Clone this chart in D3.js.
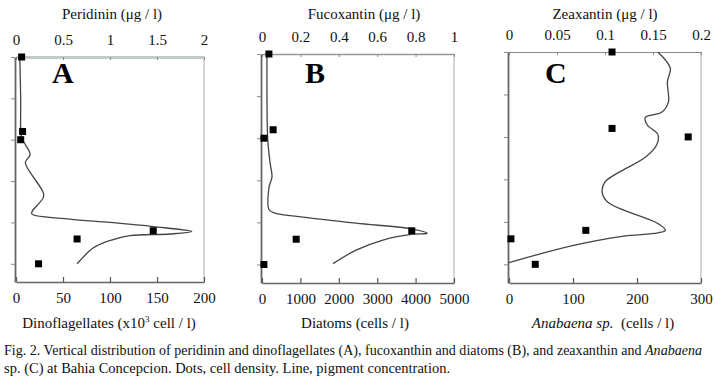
<!DOCTYPE html>
<html>
<head>
<meta charset="utf-8">
<script src="https://cdn.jsdelivr.net/npm/d3@7"></script>
<style>
  body { margin: 0; background: #fff; }
  svg { display: block; font-family: "Liberation Serif", "DejaVu Serif", serif; }
</style>
</head>
<body>
<svg id="chart" width="715" height="381"></svg>
<script>
// depth (m) axis, unlabeled
var depthTicks = [0, 5, 10, 15, 20, 25];

// cell counts (dots), sampled at these depths
var sampleDepths = [0, 9, 10, 21, 22, 25];
var dinoflagellates = [6, 7, 5, 146, 65, 24];
var diatoms = [180, 290, 50, 3900, 890, 50];
var anabaena = [161, 161, 280, 120, 3, 41];

// pigment profiles (lines)
var peridininDepth = [0, 5.2, 8.8, 9.8, 10.6, 11.8, 12.7, 13.4, 16.4, 17.0, 18.7, 19.0, 19.6, 20.0, 20.5, 21.1, 21.4, 21.6, 22.3, 23.1, 25.0];
var peridinin = [0.04, 0.05, 0.05, 0.06, 0.1, 0.15, 0.1, 0.12, 0.29, 0.29, 0.17, 0.17, 0.57, 1.0, 1.46, 1.87, 1.64, 1.21, 0.97, 0.82, 0.65];

var fucoxantinDepth = [0, 5.5, 10.2, 12.9, 14.6, 15.8, 18.5, 18.9, 19.4, 20.1, 20.8, 21.3, 21.4, 22.1, 23.3, 24.9];
var fucoxantin = [0.026, 0.026, 0.03, 0.042, 0.052, 0.037, 0.037, 0.068, 0.225, 0.49, 0.785, 0.86, 0.785, 0.63, 0.49, 0.37];

var zeaxantinDepth = [0, 1.9, 3.5, 5.9, 7.1, 7.7, 8.6, 9.7, 10.9, 12.4, 14.2, 15.3, 16.5, 17.7, 20.2, 21.0, 21.3, 21.7, 22.8, 24.8];
var zeaxantin = [0.155, 0.168, 0.165, 0.166, 0.159, 0.142, 0.144, 0.155, 0.154, 0.142, 0.114, 0.1, 0.097, 0.103, 0.155, 0.163, 0.155, 0.118, 0.066, 0.0];

// tick labels
var peridininTicks = [0, 0.5, 1, 1.5, 2];
var fucoxantinTicks = [0, 0.2, 0.4, 0.6, 0.8, 1];
var zeaxantinTicks = [0, 0.05, 0.1, 0.15, 0.2];
var dinoTicks = [0, 50, 100, 150, 200];
var diatomTicks = [0, 1000, 2000, 3000, 4000, 5000];
var anabaenaTicks = [0, 100, 200, 300];

var svg = d3.select("#chart");

var panels = [
  { letter: "A", letterX: 52, left: 16, right: 204, top: 57, bottom: 282,
    topTitle: "Peridinin (\u03bcg / l)", topCx: 112, topTicks: peridininTicks, topMax: 2,
    botTicks: dinoTicks, botMax: 200,
    lineD: peridininDepth, lineV: peridinin, dotV: dinoflagellates, topColor: "#c4cbc4", topWidth: 3 },
  { letter: "B", letterX: 305, left: 262, right: 454, top: 54, bottom: 283,
    topTitle: "Fucoxantin (\u03bcg / l)", topCx: 364, topTicks: fucoxantinTicks, topMax: 1,
    botTicks: diatomTicks, botMax: 5000,
    lineD: fucoxantinDepth, lineV: fucoxantin, dotV: diatoms, topColor: "#999", topWidth: 1.5 },
  { letter: "C", letterX: 545, left: 509, right: 701, top: 52, bottom: 283,
    topTitle: "Zeaxantin (\u03bcg / l)", topCx: 605, topTicks: zeaxantinTicks, topMax: 0.2,
    botTicks: anabaenaTicks, botMax: 300,
    lineD: zeaxantinDepth, lineV: zeaxantin, dotV: anabaena, topColor: "#888", topWidth: 1.2 }
];

panels.forEach(function (p) {
  var y = d3.scaleLinear().domain([0, 27.2]).range([p.top, p.bottom]);
  var xTop = d3.scaleLinear().domain([0, p.topMax]).range([p.left, p.right]);
  var xBot = d3.scaleLinear().domain([0, p.botMax]).range([p.left, p.right]);
  var g = svg.append("g");

  // right border
  g.append("line")
    .attr("x1", p.right).attr("x2", p.right)
    .attr("y1", p.top).attr("y2", p.bottom)
    .attr("stroke", "#c8c8c8").attr("stroke-width", 1.5);

  // top axis (pigment)
  var top = g.append("g")
    .attr("transform", "translate(0," + p.top + ")")
    .call(d3.axisTop(xTop).tickValues(p.topTicks).tickSize(-3).tickSizeOuter(0).tickPadding(12).tickFormat(d3.format("")));
  top.select(".domain").attr("stroke", p.topColor).attr("stroke-width", p.topWidth);
  top.selectAll(".tick line").attr("stroke", "#888");
  top.selectAll(".tick text").attr("font-size", 15).attr("fill", "#111").attr("font-family", "Liberation Serif");

  // bottom axis (cells)
  var bot = g.append("g")
    .attr("transform", "translate(0," + p.bottom + ")")
    .call(d3.axisBottom(xBot).tickValues(p.botTicks).tickSize(-5).tickSizeOuter(0).tickPadding(10).tickFormat(d3.format("")));
  bot.select(".domain").attr("stroke", "#666").attr("stroke-width", 1.5);
  bot.selectAll(".tick line").attr("stroke", "#555").attr("stroke-width", 1.2);
  bot.selectAll(".tick text").attr("font-size", 15).attr("fill", "#111").attr("font-family", "Liberation Serif");

  // left axis (depth)
  var lft = g.append("g")
    .attr("transform", "translate(" + (p.left - 1) + ",0)")
    .call(d3.axisLeft(y).tickValues(depthTicks).tickSize(4).tickSizeOuter(0).tickFormat(""));
  lft.select(".domain").attr("stroke", "#666").attr("stroke-width", 1.8);
  lft.selectAll(".tick line").attr("stroke", "#888");

  // pigment line
  var line = d3.line()
    .x(function (d, i) { return xTop(p.lineV[i]); })
    .y(function (d) { return y(d); })
    .curve(d3.curveCatmullRom.alpha(0.5));
  g.append("path")
    .attr("d", line(p.lineD))
    .attr("fill", "none").attr("stroke", "#444").attr("stroke-width", 1.3);

  // cell density dots
  g.selectAll("rect.dot").data(p.dotV).enter().append("rect")
    .attr("class", "dot")
    .attr("x", function (d) { return xBot(d) - 3.5; })
    .attr("y", function (d, i) { return y(sampleDepths[i]) - 3.5; })
    .attr("width", 7).attr("height", 7)
    .attr("fill", "#000");

  // panel letter
  g.append("text")
    .attr("x", p.letterX).attr("y", 83)
    .attr("font-size", 30).attr("font-weight", "bold").attr("fill", "#000")
    .text(p.letter);

  // titles
  g.append("text")
    .attr("x", p.topCx).attr("y", 19)
    .attr("text-anchor", "middle").attr("font-size", 15).attr("fill", "#111")
    .text(p.topTitle);
});

// bottom titles
var t1 = svg.append("text").attr("x", 109).attr("y", 328)
  .attr("text-anchor", "middle").attr("font-size", 15).attr("fill", "#111");
t1.append("tspan").text("Dinoflagellates (x10");
t1.append("tspan").attr("font-size", 9).attr("dy", -6).text("3");
t1.append("tspan").attr("dy", 6).text(" cell / l)");

svg.append("text").attr("x", 355).attr("y", 328)
  .attr("text-anchor", "middle").attr("font-size", 15).attr("fill", "#111")
  .text("Diatoms (cells / l)");

var t3 = svg.append("text").attr("x", 603).attr("y", 328)
  .attr("text-anchor", "middle").attr("font-size", 15).attr("fill", "#111");
t3.append("tspan").attr("font-style", "italic").text("Anabaena sp.");
t3.append("tspan").text("\u00a0 (cells / l)");

// caption
var cap1 = svg.append("text").attr("x", 4).attr("y", 355).attr("font-size", 14)
  .attr("textLength", 698).attr("lengthAdjust", "spacingAndGlyphs").attr("fill", "#111");
cap1.append("tspan").text("Fig. 2. Vertical distribution of peridinin and dinoflagellates (A), fucoxanthin and diatoms (B), and zeaxanthin and ");
cap1.append("tspan").attr("font-style", "italic").text("Anabaena");
svg.append("text").attr("x", 4).attr("y", 373).attr("font-size", 14.5).attr("fill", "#111")
  .text("sp. (C) at Bahia Concepcion. Dots, cell density. Line, pigment concentration.");
</script>
</body>
</html>
